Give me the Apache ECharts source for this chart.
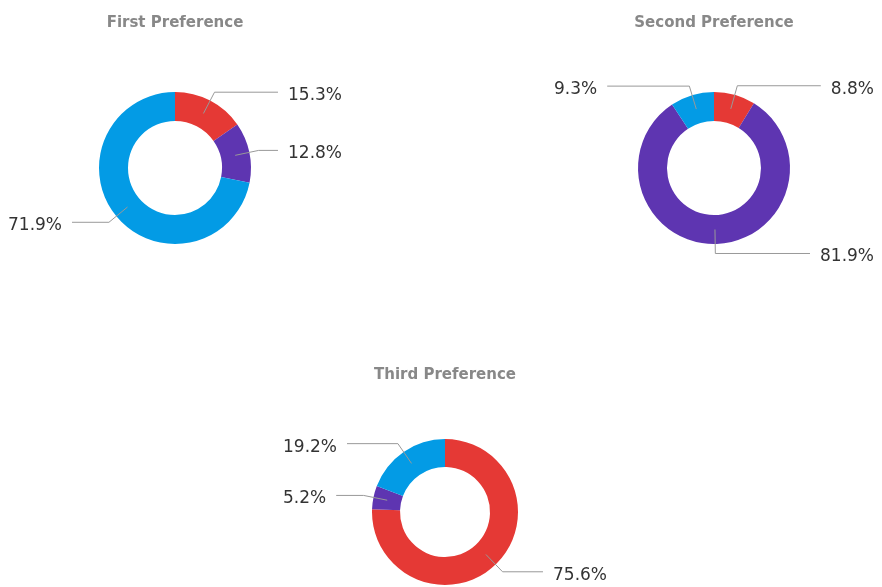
<!DOCTYPE html>
<html>
<head>
<meta charset="utf-8">
<script src="https://cdn.jsdelivr.net/npm/echarts@6/dist/echarts.min.js"></script>
<style>
  html, body { margin: 0; padding: 0; background: #fff; }
  #chart { width: 882px; height: 587px; }
</style>
</head>
<body>
<div id="chart"></div>
<script>
// slice order, clockwise from 12 o'clock
var categories = ['Red', 'Purple', 'Blue'];
var colors = ['#E53935', '#5E35B1', '#039BE5'];

var titles = ['First Preference', 'Second Preference', 'Third Preference'];
var firstValues = [15.3, 12.8, 71.9];
var secondValues = [8.8, 81.9, 9.3];
var thirdValues = [75.6, 5.2, 19.2];

var chart = echarts.init(document.getElementById('chart'));

function toData(values) {
  return values.map(function (v, i) {
    return { name: categories[i], value: v, itemStyle: { color: colors[i] } };
  });
}

// one donut = a ring without labels + a hidden pie up to mid ring carrying the labels
function donut(values, box, center, outerR, innerR) {
  var midR = (outerR + innerR) / 2;
  return [
    {
      type: 'pie',
      left: box[0], top: 0, width: box[1], height: 587,
      center: center,
      radius: [innerR, outerR],
      startAngle: 90,
      clockwise: true,
      silent: true,
      label: { show: false },
      labelLine: { show: false },
      itemStyle: { borderWidth: 0 },
      data: toData(values)
    },
    {
      type: 'pie',
      z: 5,
      left: box[0], top: 0, width: box[1], height: 587,
      center: center,
      radius: [0, midR],
      startAngle: 90,
      clockwise: true,
      silent: true,
      avoidLabelOverlap: true,
      itemStyle: { color: 'transparent' },
      label: {
        show: true,
        alignTo: 'edge',
        edgeDistance: 3,
        formatter: function (p) { return '{v|' + p.value.toFixed(1) + '%}'; },
        padding: [0, 5],
        rich: {
          v: {
            color: '#333',
            fontSize: 17,
            fontFamily: 'DejaVu Sans',
            padding: [7, 0, 0, 0]
          }
        }
      },
      labelLine: {
        show: true,
        length: 24,
        length2: 10,
        lineStyle: { color: '#999', width: 1 }
      },
      data: toData(values).map(function (d) {
        d.itemStyle = { color: 'transparent' };
        return d;
      })
    }
  ];
}

var titleStyle = { color: '#888', fontSize: 15, fontWeight: 'bold', fontFamily: 'DejaVu Sans' };

var option = {
  animation: false,
  title: [
    { text: titles[0], left: 175, top: 16, padding: 0, textAlign: 'center', textStyle: titleStyle },
    { text: titles[1], left: 714, top: 16, padding: 0, textAlign: 'center', textStyle: titleStyle },
    { text: titles[2], left: 445, top: 368, padding: 0, textAlign: 'center', textStyle: titleStyle }
  ],
  series: [].concat(
    donut(firstValues, [0, 350], [175, 168], 76, 47),
    donut(secondValues, [546, 336], [168, 168], 76, 47),
    donut(thirdValues, [275, 340], [170, 512], 73, 45)
  )
};

chart.setOption(option);
</script>
</body>
</html>
